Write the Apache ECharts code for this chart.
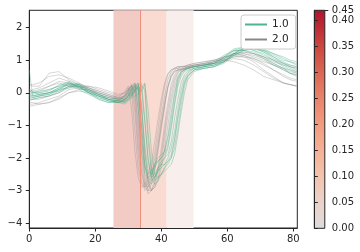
<!DOCTYPE html>
<html><head><meta charset="utf-8">
<script src="https://cdn.jsdelivr.net/npm/echarts@6/dist/echarts.min.js"></script>
<style>html,body{margin:0;padding:0;background:#fff}#c{width:360px;height:252px}</style>
</head><body><div id="c"></div>
<script>
// shared x positions (time steps)
const X = [0,1,3,6,9,12,15,18,21,24,
  27,29,30,31,32,33,34,35,36,37,38,39,40,41,42,43,44,45,46,47,48,
  50,53,56,59,62,65,68,71,74,77,79,81];

// group "1.0" (green)
const green1 = [0.7,-0.1,-0.05,0.0,0.15,0.3,0.2,0.0,-0.15,-0.25,
  -0.3,-0.2,-0.1,0.0,0.1,0.25,-0.6,-1.9,-2.6,-2.7,-2.6,-2.4,-2.2,-2.0,-1.9,-1.5,-0.8,-0.2,0.3,0.55,0.65,
  0.75,0.8,0.85,1.0,1.25,1.35,1.35,1.3,1.1,0.9,0.8,0.7];
const green2 = [-0.1,-0.15,-0.1,-0.05,0.1,0.25,0.25,0.05,-0.1,-0.2,
  -0.25,-0.3,-0.2,-0.1,0.05,0.2,0.3,-0.8,-2.0,-2.6,-2.8,-2.7,-2.5,-2.3,-2.2,-2.0,-1.5,-0.8,-0.2,0.3,0.5,
  0.7,0.75,0.8,0.95,1.2,1.4,1.4,1.3,1.15,1.0,0.95,0.9];
const green3 = [0.05,0.0,0.0,0.1,0.2,0.35,0.15,0.05,-0.05,-0.15,
  -0.2,-0.15,0.0,-0.1,0.15,0.3,-0.4,-1.6,-2.4,-2.5,-2.3,-2.1,-2.0,-1.9,-1.6,-1.0,-0.3,0.3,0.6,0.7,0.75,
  0.8,0.85,0.9,1.1,1.3,1.3,1.25,1.1,0.9,0.75,0.6,0.55];
const green4 = [-0.2,-0.2,-0.15,-0.1,0.0,0.2,0.3,0.1,-0.05,-0.2,
  -0.3,-0.35,-0.25,-0.15,-0.1,0.0,0.15,0.3,-1.2,-2.3,-2.7,-2.6,-2.5,-2.4,-2.3,-2.2,-1.9,-1.3,-0.6,0.0,0.4,
  0.65,0.75,0.8,0.9,1.15,1.3,1.35,1.3,1.2,1.05,0.95,0.85];
const green5 = [0.0,-0.05,0.0,0.05,0.25,0.3,0.15,0.0,-0.2,-0.3,
  -0.3,-0.25,-0.1,0.05,0.2,-0.5,-1.8,-2.5,-2.6,-2.5,-2.2,-2.0,-1.9,-1.8,-1.4,-0.8,-0.1,0.4,0.6,0.7,0.75,
  0.8,0.85,0.9,1.05,1.3,1.4,1.3,1.15,1.0,0.85,0.75,0.65];
const green6 = [-0.1,-0.1,-0.05,0.0,0.05,0.2,0.2,0.0,-0.1,-0.2,
  -0.25,-0.2,-0.15,0.0,0.1,0.15,0.05,0.25,-0.5,-1.8,-2.5,-2.6,-2.5,-2.3,-2.1,-2.0,-1.7,-1.1,-0.4,0.2,0.5,
  0.7,0.8,0.85,0.95,1.15,1.3,1.4,1.35,1.2,1.1,1.0,0.95];
const green7 = [0.1,0.05,-0.05,0.0,0.15,0.25,0.2,0.0,-0.15,-0.25,
  -0.3,-0.2,-0.1,0.1,0.25,-0.2,-1.5,-2.3,-2.5,-2.4,-2.2,-2.1,-2.0,-1.8,-1.3,-0.6,0.0,0.45,0.65,0.7,0.75,
  0.8,0.85,0.95,1.15,1.3,1.3,1.2,1.05,0.85,0.7,0.6,0.5];
const green8 = [-0.15,-0.15,-0.1,0.0,0.1,0.15,0.25,0.1,-0.05,-0.2,
  -0.25,-0.3,-0.2,-0.05,0.05,0.2,0.1,-0.9,-2.1,-2.6,-2.5,-2.3,-2.2,-2.2,-2.0,-1.7,-1.2,-0.5,0.1,0.45,0.6,
  0.75,0.8,0.85,0.95,1.2,1.35,1.4,1.25,1.1,0.95,0.85,0.8];
const green9 = [0.05,0.0,0.05,0.1,0.2,0.25,0.1,-0.05,-0.2,-0.3,
  -0.25,-0.1,0.05,0.2,0.3,0.1,-1.0,-2.2,-2.7,-2.8,-2.6,-2.3,-2.1,-2.0,-1.7,-1.1,-0.4,0.2,0.5,0.65,0.7,
  0.75,0.8,0.9,1.1,1.35,1.4,1.3,1.2,1.0,0.8,0.7,0.6];
const green10 = [-0.05,-0.1,-0.1,-0.05,0.1,0.3,0.25,0.05,-0.1,-0.25,
  -0.3,-0.25,-0.2,-0.1,0.0,0.1,0.2,0.1,-1.5,-2.4,-2.6,-2.4,-2.3,-2.2,-2.1,-1.9,-1.4,-0.7,-0.1,0.35,0.55,
  0.7,0.75,0.8,0.95,1.2,1.35,1.35,1.25,1.05,0.9,0.8,0.75];

// group "2.0" (gray)
const gray1 = [0.3,0.2,0.2,0.6,0.65,0.4,0.25,0.15,0.0,-0.1,
  -0.2,-0.1,0.0,0.2,-0.6,-1.9,-2.7,-3.0,-2.9,-2.6,-2.2,-1.6,-0.9,-0.3,0.2,0.5,0.65,0.7,0.7,0.72,0.75,
  0.8,0.85,0.9,1.0,1.1,1.15,1.05,0.9,0.7,0.5,0.4,0.35];
const gray2 = [-0.3,-0.3,-0.35,-0.3,-0.2,0.0,0.1,0.1,0.0,-0.1,
  -0.15,-0.1,0.1,0.25,0.0,-1.2,-2.4,-2.9,-3.0,-2.8,-2.4,-1.8,-1.1,-0.4,0.2,0.55,0.7,0.75,0.75,0.8,0.8,
  0.85,0.9,1.0,1.1,1.15,1.1,0.95,0.7,0.5,0.3,0.25,0.2];
const gray3 = [0.0,0.1,0.15,0.3,0.45,0.35,0.25,0.2,0.1,0.0,
  -0.1,0.0,0.15,-0.5,-1.8,-2.6,-2.9,-2.8,-2.5,-2.1,-1.5,-0.8,-0.2,0.3,0.6,0.7,0.75,0.75,0.8,0.8,0.82,
  0.85,0.9,0.95,1.05,1.2,1.2,1.1,1.0,0.85,0.7,0.6,0.55];
const gray4 = [-0.35,-0.35,-0.3,-0.2,-0.1,0.1,0.15,0.05,-0.05,-0.15,
  -0.2,-0.1,0.05,0.1,0.3,-0.5,-1.9,-2.7,-3.1,-3.0,-2.8,-2.4,-1.9,-1.2,-0.5,0.1,0.45,0.65,0.7,0.75,0.75,
  0.8,0.85,0.9,1.0,1.15,1.2,1.15,1.05,0.9,0.75,0.65,0.6];
const gray5 = [0.2,0.25,0.3,0.5,0.55,0.45,0.3,0.15,0.05,-0.05,
  -0.15,0.05,0.2,0.0,-1.2,-2.3,-2.8,-2.9,-2.7,-2.3,-1.8,-1.1,-0.4,0.2,0.55,0.7,0.75,0.8,0.8,0.82,0.85,
  0.9,0.95,1.0,1.0,0.95,0.85,0.7,0.5,0.4,0.3,0.25,0.2];
const gray6 = [-0.2,-0.2,-0.15,-0.1,0.0,0.15,0.2,0.15,0.05,-0.05,
  -0.15,-0.2,-0.05,0.15,0.25,0.1,-1.0,-2.2,-2.8,-3.0,-2.9,-2.6,-2.1,-1.4,-0.7,-0.1,0.35,0.6,0.7,0.75,0.8,
  0.85,0.9,0.95,1.05,1.2,1.25,1.2,1.1,1.0,0.9,0.85,0.8];
const gray7 = [-0.1,0.0,0.05,0.2,0.35,0.3,0.2,0.1,0.0,-0.1,
  -0.2,-0.05,0.1,0.25,-0.3,-1.6,-2.5,-2.9,-2.8,-2.5,-2.0,-1.4,-0.7,-0.1,0.4,0.65,0.75,0.8,0.8,0.8,0.85,
  0.9,0.95,1.0,1.1,1.2,1.15,1.0,0.85,0.7,0.55,0.45,0.4];
const gray8 = [-0.4,-0.4,-0.35,-0.3,-0.15,0.0,0.05,0.0,-0.1,-0.2,
  -0.25,-0.15,-0.05,0.1,0.2,0.05,-1.3,-2.5,-3.0,-3.0,-2.7,-2.3,-1.7,-1.0,-0.3,0.25,0.55,0.7,0.72,0.75,0.78,
  0.82,0.85,0.9,1.0,1.1,1.1,1.05,0.95,0.85,0.75,0.7,0.65];
const gray9 = [0.1,0.05,0.1,0.2,0.3,0.2,0.15,0.2,0.15,0.05,
  -0.05,0.0,0.1,0.2,0.05,-0.9,-2.2,-2.8,-2.9,-2.7,-2.3,-1.7,-1.0,-0.4,0.15,0.5,0.65,0.7,0.72,0.75,0.8,
  0.85,0.88,0.9,0.95,1.05,1.0,0.85,0.65,0.45,0.3,0.25,0.22];
const gray10 = [-0.25,-0.2,-0.2,-0.1,0.05,0.2,0.2,0.1,-0.05,-0.15,
  -0.2,-0.25,-0.1,0.05,0.2,0.3,-0.3,-1.8,-2.7,-3.0,-2.9,-2.7,-2.3,-1.7,-1.0,-0.3,0.2,0.5,0.65,0.7,0.75,
  0.8,0.85,0.95,1.05,1.2,1.25,1.2,1.1,0.95,0.85,0.8,0.75];

const greenGroup = [green1,green2,green3,green4,green5,green6,green7,green8,green9,green10];
const grayGroup = [gray1,gray2,gray3,gray4,gray5,gray6,gray7,gray8,gray9,gray10];
const groupNames = ['1.0','2.0'];

// shaded windows on the time axis
const windowStarts = [25.5, 33.6, 41.6];
const windowEnds = [33.6, 41.6, 49.8];
const windowColors = ['#f2cbc5', '#f9dbd1', '#f8eeeb'];
const markerX = [33.6];

const xTicks = [0,20,40,60,80];
const yTicks = [-4,-3,-2,-1,0,1,2];
const cbMax = 0.4186;
const cbTicks = [0,0.05,0.10,0.15,0.20,0.25,0.30,0.35,0.40];
const cbTopTick = [cbMax];
const cbTopLabel = '0.45';

const FONT = 'DejaVu Sans';
const TXT = '#262626';
const fmtMinus = v => (v < 0 ? '\u2212' + Math.abs(v) : String(v));

const chart = echarts.init(document.getElementById('c'), null, {renderer:'canvas'});

const series = [];
series.push({
  type:'line', xAxisIndex:0, yAxisIndex:0, data:[], silent:true, z:1,
  markArea:{silent:true, data: windowStarts.map((s,i)=>[{xAxis:s, itemStyle:{color:windowColors[i]}},{xAxis:windowEnds[i]}])},
  markLine:{silent:true, symbol:['none','none'], label:{show:false},
    lineStyle:{color:'#ef8f7e', width:1, type:'solid'}, data: markerX.map(x=>({xAxis:x}))}
});
grayGroup.forEach(arr=>series.push({
  type:'line', name:groupNames[1], xAxisIndex:0, yAxisIndex:0, z:2, showSymbol:false, silent:true,
  data: X.map((x,i)=>[x,arr[i]]), color:'#888888',
  lineStyle:{width:0.7, color:'rgba(140,140,140,0.5)'}
}));
greenGroup.forEach(arr=>series.push({
  type:'line', name:groupNames[0], xAxisIndex:0, yAxisIndex:0, z:3, showSymbol:false, silent:true,
  data: X.map((x,i)=>[x,arr[i]]), color:'#4fb394',
  lineStyle:{width:0.7, color:'rgba(60,170,130,0.5)'}
}));

const cbAxisBase = {type:'value', gridIndex:1, min:0, max:cbMax, position:'right', splitLine:{show:false}};

const option = {
  animation:false,
  backgroundColor:'#fff',
  textStyle:{fontFamily:FONT},
  grid:[
    {left:29.3, top:10.3, width:268, height:217.7, show:true, borderColor:TXT, borderWidth:1, backgroundColor:'transparent', containLabel:false},
    {left:314.3, top:10.3, width:10.5, height:218, show:true, borderColor:TXT, borderWidth:1,
      backgroundColor:{type:'linear', x:0, y:1, x2:0, y2:0, colorStops:[
        {offset:0, color:'#dddbdb'},{offset:0.12, color:'#ead3ca'},{offset:0.24, color:'#f3c3ad'},
        {offset:0.36, color:'#f5b095'},{offset:0.48, color:'#f29b7e'},{offset:0.60, color:'#e8826a'},
        {offset:0.72, color:'#da6652'},{offset:0.84, color:'#c94540'},{offset:1, color:'#b0142a'}]}}
  ],
  xAxis:[
    {type:'value', gridIndex:0, min:0, max:81.2, splitLine:{show:false},
      axisLine:{show:true, onZero:false, lineStyle:{color:TXT, width:1}},
      axisTick:{show:true, length:3.5, lineStyle:{color:TXT}, customValues:xTicks},
      axisLabel:{color:TXT, fontSize:10, margin:6, fontFamily:FONT, customValues:xTicks, formatter:fmtMinus}},
    {type:'value', gridIndex:1, min:0, max:1, show:false}
  ],
  yAxis:[
    {type:'value', gridIndex:0, min:-4.15, max:2.53, splitLine:{show:false},
      axisLine:{show:true, onZero:false, lineStyle:{color:TXT, width:1}},
      axisTick:{show:true, length:3.5, lineStyle:{color:TXT}, customValues:yTicks},
      axisLabel:{color:TXT, fontSize:10, margin:7, fontFamily:FONT, customValues:yTicks, formatter:fmtMinus}},
    Object.assign({}, cbAxisBase, {
      axisLine:{show:true, lineStyle:{color:TXT, width:1}},
      axisTick:{show:true, length:3.5, lineStyle:{color:TXT}, customValues:cbTicks},
      axisLabel:{color:TXT, fontSize:10, margin:7, fontFamily:FONT, customValues:cbTicks,
        showMaxLabel:true, showMinLabel:true, formatter:v=>v.toFixed(2)}}),
    Object.assign({}, cbAxisBase, {
      axisLine:{show:false},
      axisTick:{show:true, length:3.5, lineStyle:{color:TXT}, customValues:cbTopTick},
      axisLabel:{color:TXT, fontSize:10, margin:7, fontFamily:FONT, customValues:cbTopTick,
        showMaxLabel:true, formatter:()=>cbTopLabel}})
  ],
  legend:{
    left:241, top:15, orient:'vertical', backgroundColor:'#fff', borderColor:'#cccccc', borderWidth:1, borderRadius:3,
    padding:[4,7,4,4], itemGap:4, itemWidth:22, itemHeight:2, selectedMode:false,
    textStyle:{color:TXT, fontSize:10.5, fontFamily:FONT},
    data:[{name:groupNames[0], icon:'rect', itemStyle:{color:'#4fb394', opacity:1}},
          {name:groupNames[1], icon:'rect', itemStyle:{color:'#888888', opacity:1}}]
  },
  series: series
};
chart.setOption(option);
</script></body></html>
